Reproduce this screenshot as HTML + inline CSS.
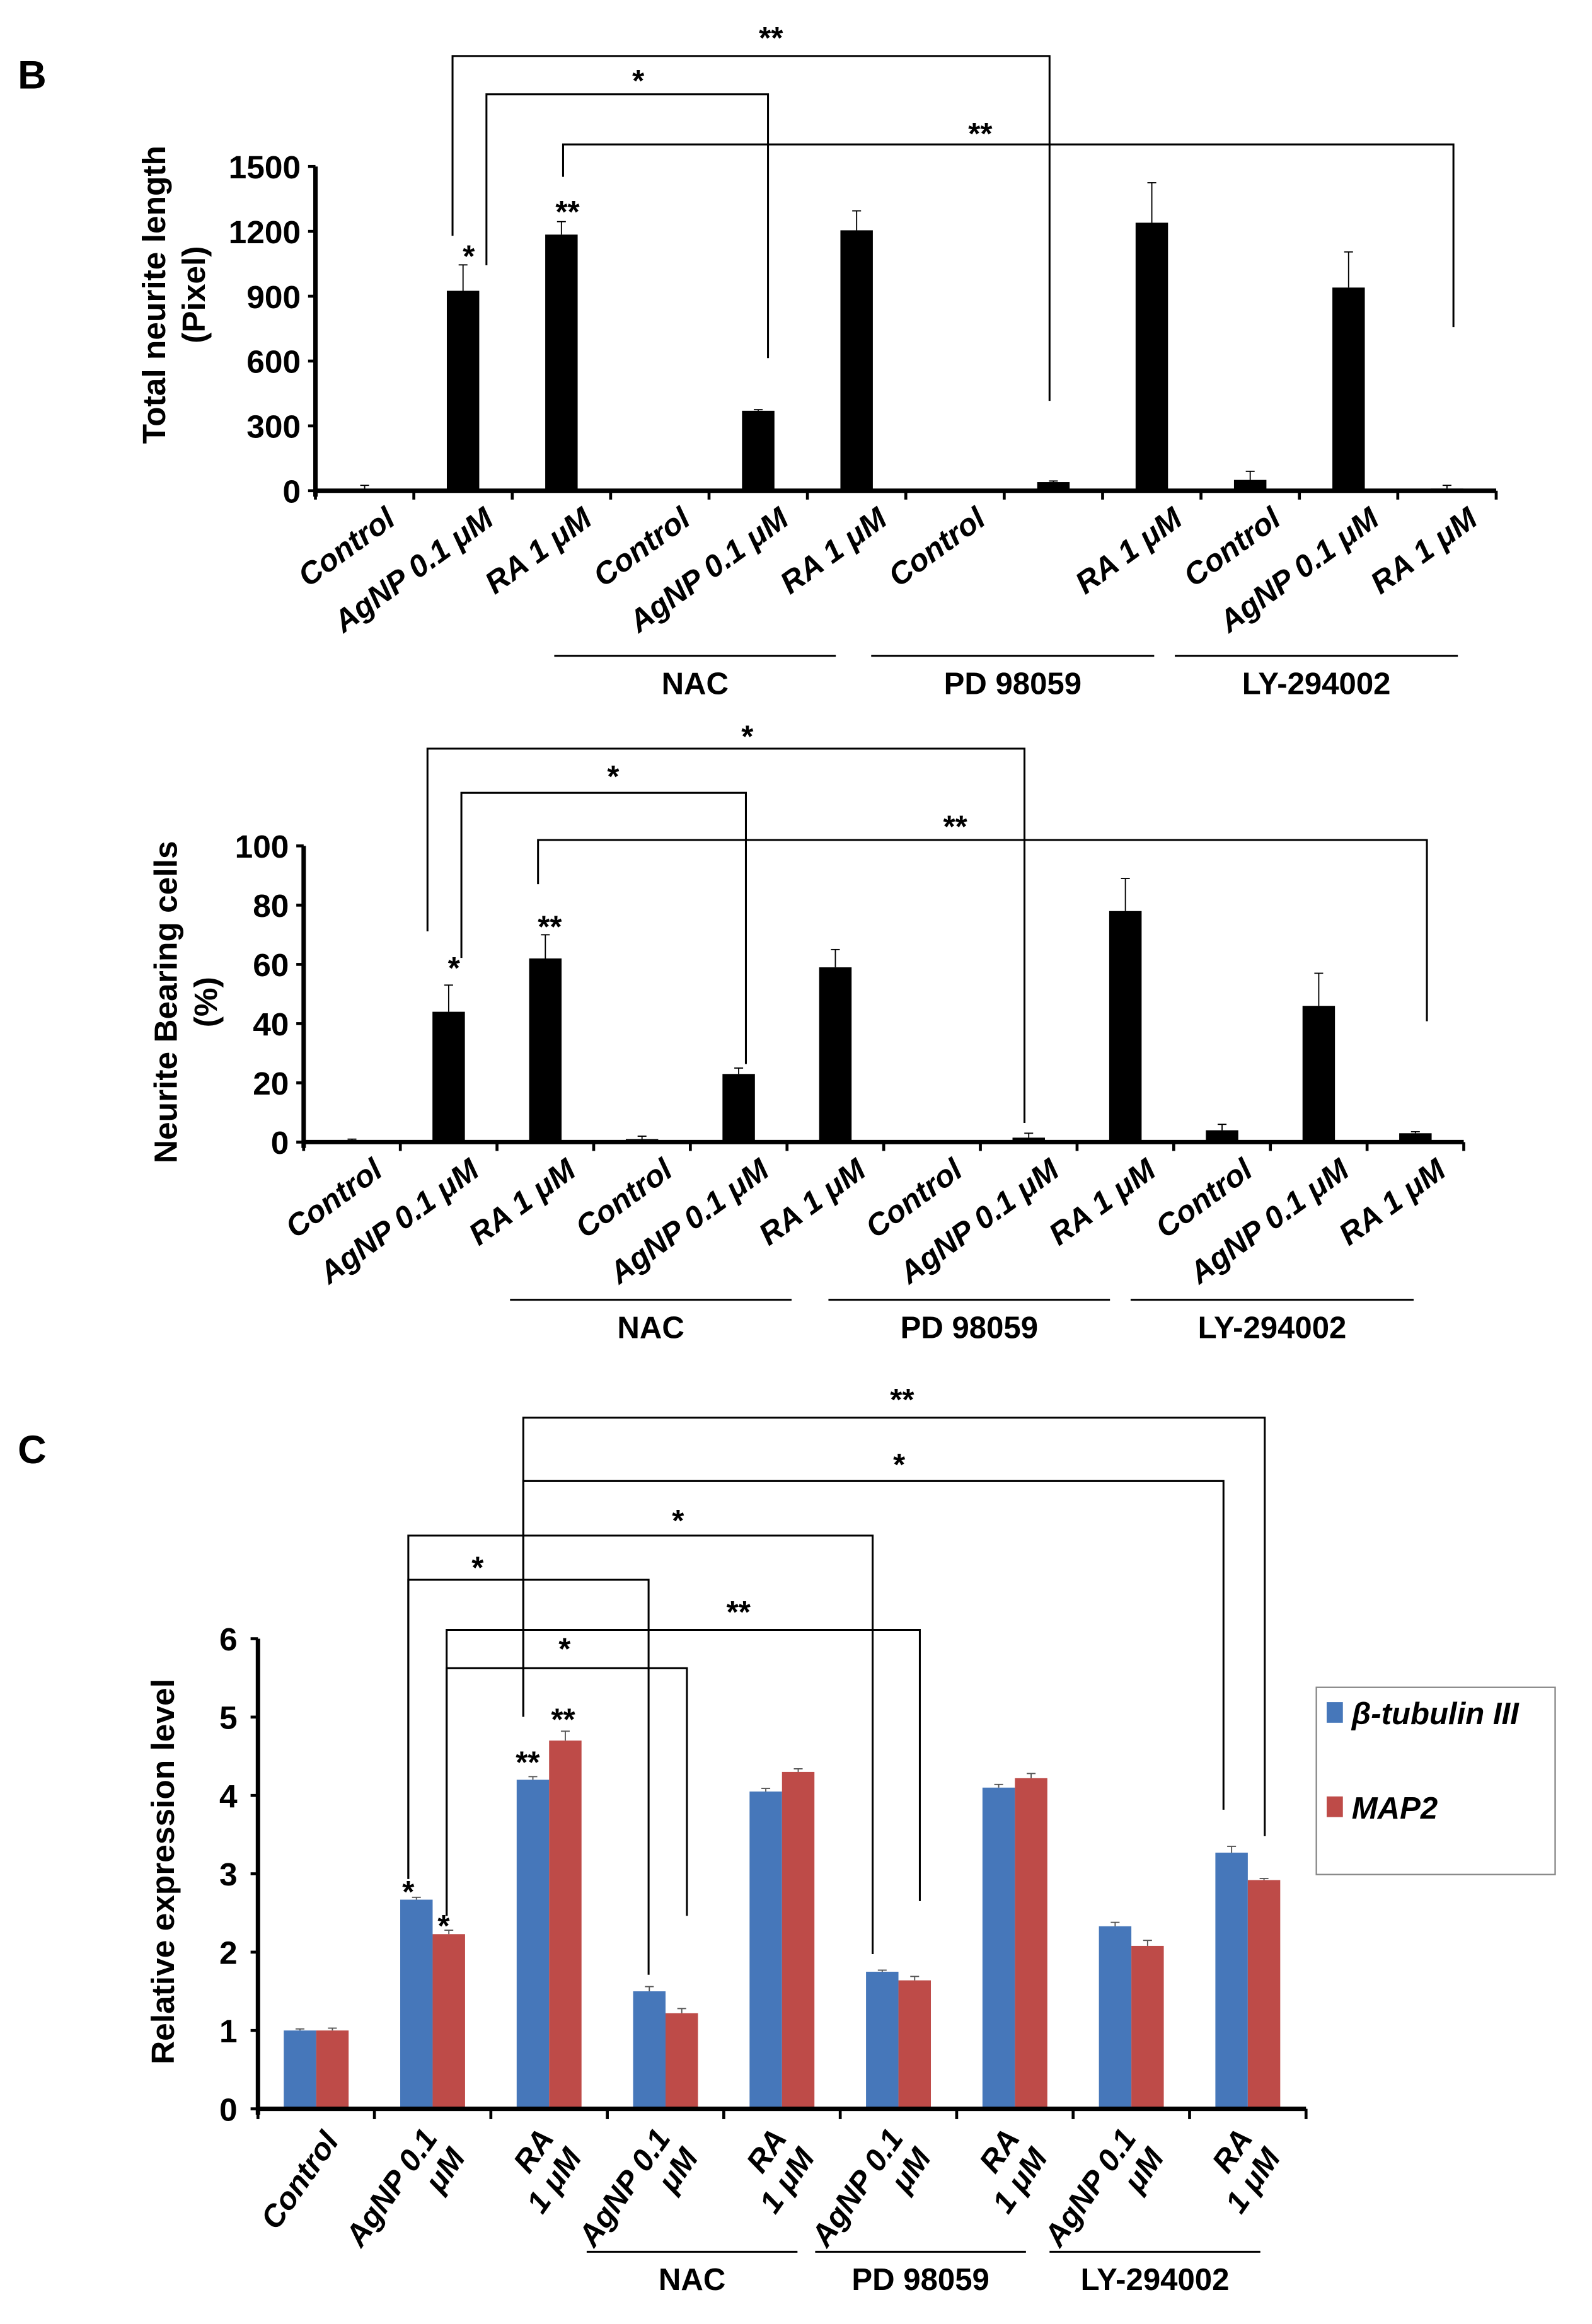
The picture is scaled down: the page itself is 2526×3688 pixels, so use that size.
<!DOCTYPE html>
<html><head><meta charset="utf-8">
<style>html,body{margin:0;padding:0;background:#fff}svg{display:block}text{font-family:"Liberation Sans",Arial,sans-serif;font-weight:bold;fill:#000}</style>
</head><body>
<svg id="fig" width="2526" height="3688" viewBox="0 0 1080 1577" preserveAspectRatio="none" xmlns="http://www.w3.org/2000/svg">
<rect width="1080" height="1577" fill="#fff"/>
<text x="12" y="60" font-size="27">B</text>
<text x="12" y="993" font-size="27">C</text>
</svg>
<script>
const svgNS="http://www.w3.org/2000/svg";
const svg=document.getElementById('fig');
function el(tag,attrs,parent){const e=document.createElementNS(svgNS,tag);for(const k in attrs)e.setAttribute(k,attrs[k]);(parent||svg).appendChild(e);return e;}

// ---- data ----
const catsB=["Control","AgNP 0.1 μM","RA 1 μM","Control","AgNP 0.1 μM","RA 1 μM","Control","","RA 1 μM","Control","AgNP 0.1 μM","RA 1 μM"];
const catsB2=["Control","AgNP 0.1 μM","RA 1 μM","Control","AgNP 0.1 μM","RA 1 μM","Control","AgNP 0.1 μM","RA 1 μM","Control","AgNP 0.1 μM","RA 1 μM"];
const lenVals=[5,925,1185,0,370,1205,0,40,1240,50,940,10];
const lenErr=[20,120,60,0,5,90,0,5,185,40,165,15];
const lenTicks=[0,300,600,900,1200,1500];
const pctVals=[0.5,44,62,1,23,59,0,1.5,78,4,46,3];
const pctErr=[0.5,9,8,1,2,6,0,1.5,11,2,11,0.5];
const pctTicks=[0,20,40,60,80,100];
const catsC=[["Control"],["AgNP 0.1","μM"],["RA","1 μM"],["AgNP 0.1","μM"],["RA","1 μM"],["AgNP 0.1","μM"],["RA","1 μM"],["AgNP 0.1","μM"],["RA","1 μM"]];
const tubVals=[1.0,2.67,4.2,1.5,4.05,1.75,4.1,2.33,3.27];
const tubErr=[0.02,0.03,0.04,0.06,0.04,0.02,0.04,0.05,0.08];
const mapVals=[1.0,2.23,4.7,1.22,4.3,1.64,4.22,2.08,2.92];
const mapErr=[0.03,0.05,0.12,0.06,0.04,0.05,0.06,0.07,0.02];
const cTicks=[0,1,2,3,4,5,6];

function barChart(o){
  const n=o.cats.length, cw=(o.x1-o.x0)/n;
  const y=v=>o.yb-(v/o.max)*(o.yb-o.yt);
  const g=el('g',{});
  
  
  o.vals.forEach((v,i)=>{
    const cx=o.x0+cw*(i+0.5);
    if(o.err[i]>0){el('line',{x1:cx,x2:cx,y1:y(v),y2:y(v+o.err[i]),stroke:'#000','stroke-width':0.8},g);
      el('line',{x1:cx-3,x2:cx+3,y1:y(v+o.err[i]),y2:y(v+o.err[i]),stroke:'#000','stroke-width':0.8},g);}
    const r=el('rect',{x:cx-11,y:y(v),width:22,height:o.yb-y(v),fill:'#000'},g);
    
    
    if(o.cats[i]){const t=el('text',{x:0,y:0,'font-size':21,'font-style':'italic','text-anchor':'end',transform:`translate(${cx+22},${o.yb+22}) rotate(-36)`},g);t.textContent=o.cats[i];
      
      }
  });
  el('line',{x1:o.x0,x2:o.x0,y1:o.yt,y2:o.yb+4,stroke:'#000','stroke-width':3},g);
  el('line',{x1:o.x0,x2:o.x1,y1:o.yb,y2:o.yb,stroke:'#000','stroke-width':3},g);
  for(let i=0;i<=n;i++)el('line',{x1:o.x0+cw*i,x2:o.x0+cw*i,y1:o.yb,y2:o.yb+6,stroke:'#000','stroke-width':2},g);
  o.ticks.forEach(t=>{el('line',{x1:o.x0-5,x2:o.x0,y1:y(t),y2:y(t),stroke:'#000','stroke-width':2},g);
    const tx=el('text',{x:o.x0-10,y:y(t)+8,'font-size':22,'text-anchor':'end'},g);tx.textContent=t;
    
    });
  return {y,cw};
}
function yTitle(lines,x,cy){lines.forEach((s,i)=>{const t=el('text',{x:0,y:0,'font-size':22,'text-anchor':'middle',transform:`translate(${x+i*27},${cy}) rotate(-90)`});t.textContent=s;
  
  });}
function bracket(xa,ya,xb,yb,yt,label,lx,ly){
  const p=el('path',{d:`M${xa},${ya}V${yt}H${xb}V${yb}`,fill:'none',stroke:'#000','stroke-width':1.3});
  
  
  star(label,lx,ly);
}
function star(s,x,y){const t=el('text',{x,y,'font-size':21,'text-anchor':'middle'});t.textContent=s;
  
  }
function group(x0,x1,y,label){const l=el('line',{x1:x0,x2:x1,y1:y,y2:y,stroke:'#000','stroke-width':1.3});
  
  
  const t=el('text',{x:(x0+x1)/2,y:y+26,'font-size':21,'text-anchor':'middle'});t.textContent=label;
  
  }

// Chart B1
barChart({name:'neurite-length-chart',cats:catsB,vals:lenVals,err:lenErr,ticks:lenTicks,max:1500,x0:214,x1:1015,yt:113,yb:333});
yTitle(["Total neurite length","(Pixel)"],112,200);
bracket(307,160,712,272,38,'**',523,33);
bracket(330,180,521,243,64,'*',433,62);
bracket(382,120,986,222,98,'**',665,98);
star('*',318,181);star('**',385,151);
group(376,567,445,'NAC');group(591,783,445,'PD 98059');group(797,989,445,'LY-294002');

// Chart B2
barChart({name:'neurite-bearing-chart',cats:catsB2,vals:pctVals,err:pctErr,ticks:pctTicks,max:100,x0:206,x1:993,yt:574,yb:775});
yTitle(["Neurite Bearing cells","(%)"],120,680);
bracket(290,632,695,762,508,'*',507,507);
bracket(313,650,506,722,538,'*',416,534);
bracket(365,600,968,693,570,'**',648,568);
star('*',308,664);star('**',373,636);
group(346,537,882,'NAC');group(562,753,882,'PD 98059');group(767,959,882,'LY-294002');

// Chart C
(function(){
  const x0=175,x1=886,yt=1112,yb=1431,max=6,n=catsC.length,cw=(x1-x0)/n;
  const y=v=>yb-(v/max)*(yb-yt);
  const g=el('g',{});
  
  
  for(let i=0;i<n;i++){
    const cx=x0+cw*(i+0.5);
    [[tubVals,tubErr,'#4677BA',-22],[mapVals,mapErr,'#BE4B48',0]].forEach(([vals,err,col,off])=>{
      const v=vals[i];
      const r=el('rect',{x:cx+off,y:y(v),width:22,height:yb-y(v),fill:col},g);
      
      
      const bx=cx+off+11;
      el('line',{x1:bx,x2:bx,y1:y(v),y2:y(v+err[i]),stroke:'#555','stroke-width':0.8},g);
      el('line',{x1:bx-3,x2:bx+3,y1:y(v+err[i]),y2:y(v+err[i]),stroke:'#555','stroke-width':0.8},g);
    });
    const t=el('text',{x:0,y:0,'font-size':21,'font-style':'italic','text-anchor':'end',transform:`translate(${cx+16},${yb+22}) rotate(-55)`},g);
    
    
    catsC[i].forEach((s,k)=>{const ts=el('tspan',{x:0,dy:k?23:0},t);ts.textContent=s;});
    if(catsC[i].length>1){t.setAttribute('transform',`translate(${cx+4},${yb+20}) rotate(-55)`);}
  }
  el('line',{x1:x0,x2:x0,y1:yt,y2:yb+4,stroke:'#000','stroke-width':3},g);
  el('line',{x1:x0,x2:x1,y1:yb,y2:yb,stroke:'#000','stroke-width':3},g);
  for(let i=0;i<=n;i++)el('line',{x1:x0+cw*i,x2:x0+cw*i,y1:yb,y2:yb+7,stroke:'#000','stroke-width':2},g);
  cTicks.forEach(t=>{el('line',{x1:x0-5,x2:x0,y1:y(t),y2:y(t),stroke:'#000','stroke-width':2},g);
    const tx=el('text',{x:x0-14,y:y(t)+8,'font-size':22,'text-anchor':'end'},g);tx.textContent=t;
    
    });
})();
yTitle(["Relative expression level"],118,1270);
bracket(355,1165,858,1246,962,'**',612,957);
bracket(355,1165,830,1228,1005,'*',610,1001);
bracket(277,1275,592,1326,1042,'*',460,1039);
bracket(277,1275,440,1340,1072,'*',324,1071);
bracket(303,1300,624,1290,1106,'**',501,1101);
bracket(303,1300,466,1300,1132,'*',383,1126);
star('*',277,1291);star('*',301,1314);star('**',358,1203);star('**',382,1174);
group(398,541,1528,'NAC');group(553,696,1528,'PD 98059');group(712,855,1528,'LY-294002');

// legend
const lg=el('g',{});


el('rect',{x:893,y:1145,width:162,height:127,fill:'#fff',stroke:'#888','stroke-width':1},lg);
[['#4677BA','β-tubulin III',1162],['#BE4B48','MAP2',1226]].forEach(([c,s,yy])=>{
  const e=el('g',{},lg);
  
  
  el('rect',{x:900,y:yy-7,width:11,height:14,fill:c},e);
  const t=el('text',{x:917,y:yy+8,'font-size':21,'font-style':'italic'},e);t.textContent=s;
});
</script>
</body></html>
